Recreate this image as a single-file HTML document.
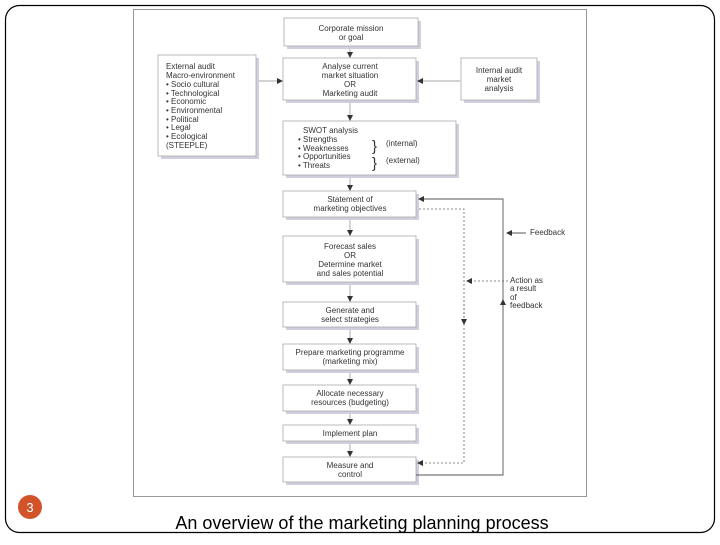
<!DOCTYPE html>
<html><head><meta charset="utf-8"><style>
body{margin:0;width:720px;height:540px;background:#fff;overflow:hidden;font-family:"Liberation Sans",sans-serif}
</style></head><body>
<svg width="720" height="540" xmlns="http://www.w3.org/2000/svg" font-family="Liberation Sans, sans-serif">
<defs>
<marker id="a" markerWidth="6" markerHeight="6" refX="5" refY="3" orient="auto" markerUnits="userSpaceOnUse"><path d="M0,0 L6,3 L0,6z" fill="#333"/></marker>
</defs>
<rect x="5.5" y="5.5" width="709" height="527" rx="14" fill="none" stroke="#000" stroke-width="1.2"/>
<rect x="133.5" y="9.5" width="453" height="487" fill="#fff" stroke="#999" stroke-width="1"/>
<g fill="#cfcfe0">
<rect x="287" y="21" width="134" height="28"/>
<rect x="286" y="61" width="133" height="42"/>
<rect x="161" y="58" width="98" height="101"/>
<rect x="464" y="61" width="76" height="42"/>
<rect x="286" y="124" width="173" height="54"/>
<rect x="286" y="194" width="133" height="26"/>
<rect x="286" y="239" width="133" height="46"/>
<rect x="286" y="305" width="133" height="25"/>
<rect x="286" y="347" width="133" height="26"/>
<rect x="286" y="388" width="133" height="26"/>
<rect x="286" y="428" width="133" height="16"/>
<rect x="286" y="460" width="133" height="25"/>
</g>
<g fill="#fff" stroke="#aaa" stroke-width="0.8">
<rect x="284" y="18" width="134" height="28"/>
<rect x="283" y="58" width="133" height="42"/>
<rect x="158" y="55" width="98" height="101"/>
<rect x="461" y="58" width="76" height="42"/>
<rect x="283" y="121" width="173" height="54"/>
<rect x="283" y="191" width="133" height="26"/>
<rect x="283" y="236" width="133" height="46"/>
<rect x="283" y="302" width="133" height="25"/>
<rect x="283" y="344" width="133" height="26"/>
<rect x="283" y="385" width="133" height="26"/>
<rect x="283" y="425" width="133" height="16"/>
<rect x="283" y="457" width="133" height="25"/>
</g>
<g stroke="#888" stroke-width="0.7" fill="none" marker-end="url(#a)">
<line x1="350" y1="49" x2="350" y2="57"/>
<line x1="350" y1="103" x2="350" y2="120"/>
<line x1="350" y1="178" x2="350" y2="190"/>
<line x1="350" y1="220" x2="350" y2="235"/>
<line x1="350" y1="285" x2="350" y2="301"/>
<line x1="350" y1="330" x2="350" y2="343"/>
<line x1="350" y1="373" x2="350" y2="384"/>
<line x1="350" y1="414" x2="350" y2="424"/>
<line x1="350" y1="444" x2="350" y2="456"/>
<line x1="259" y1="81" x2="282" y2="81"/>
<line x1="460" y1="81" x2="418" y2="81"/>
</g>
<g stroke="#555" stroke-width="0.9" fill="none">
<polyline points="416,475 503,475 503,199 419,199" marker-end="url(#a)"/>
<line x1="503" y1="310" x2="503" y2="300" marker-end="url(#a)"/>
<line x1="526" y1="233" x2="507" y2="233" marker-end="url(#a)"/>
</g>
<g stroke="#666" stroke-width="0.8" fill="none" stroke-dasharray="2,2">
<polyline points="419,209 464,209 464,463 418,463" marker-end="url(#a)"/>
<line x1="508" y1="281" x2="467" y2="281" marker-end="url(#a)"/>
<line x1="464" y1="300" x2="464" y2="324" marker-end="url(#a)"/>
</g>
<g font-size="8" fill="#333" text-anchor="middle">
<text x="351" y="31">Corporate mission</text><text x="351" y="40">or goal</text>
<text x="350" y="69">Analyse current</text><text x="350" y="78">market situation</text><text x="350" y="87">OR</text><text x="350" y="96">Marketing audit</text>
<text x="499" y="73">Internal audit</text><text x="499" y="82">market</text><text x="499" y="91">analysis</text>
<text x="350" y="202">Statement of</text><text x="350" y="211">marketing objectives</text>
<text x="350" y="249">Forecast sales</text><text x="350" y="258">OR</text><text x="350" y="267">Determine market</text><text x="350" y="276">and sales potential</text>
<text x="350" y="313">Generate and</text><text x="350" y="322">select strategies</text>
<text x="350" y="355">Prepare marketing programme</text><text x="350" y="364">(marketing mix)</text>
<text x="350" y="396">Allocate necessary</text><text x="350" y="405">resources (budgeting)</text>
<text x="350" y="436">Implement plan</text>
<text x="350" y="468">Measure and</text><text x="350" y="477">control</text>
</g>
<g font-size="8" fill="#333">
<text x="166" y="69">External audit</text><text x="166" y="78">Macro-environment</text>
<text x="166" y="87">• Socio cultural</text><text x="166" y="96">• Technological</text><text x="166" y="104">• Economic</text>
<text x="166" y="113">• Environmental</text><text x="166" y="122">• Political</text><text x="166" y="130">• Legal</text>
<text x="166" y="139">• Ecological</text><text x="166" y="148">(STEEPLE)</text>
<text x="303" y="133">SWOT analysis</text><text x="298" y="142">• Strengths</text><text x="298" y="151">• Weaknesses</text>
<text x="298" y="159">• Opportunities</text><text x="298" y="168">• Threats</text>
<text x="386" y="146">(internal)</text><text x="386" y="163">(external)</text>
<text x="530" y="235">Feedback</text>
<text x="510" y="283">Action as</text><text x="510" y="291">a result</text><text x="510" y="300">of</text><text x="510" y="308">feedback</text>
</g>
<g font-size="15" fill="#333"><text x="372" y="151">}</text><text x="372" y="168">}</text></g>
<circle cx="30" cy="507" r="12" fill="#d2532a"/>
<text x="30" y="512" font-size="13" fill="#fff" text-anchor="middle">3</text>
<text x="362" y="529" font-size="18" fill="#000" text-anchor="middle">An overview of the marketing planning process</text>
</svg>
</body></html>
